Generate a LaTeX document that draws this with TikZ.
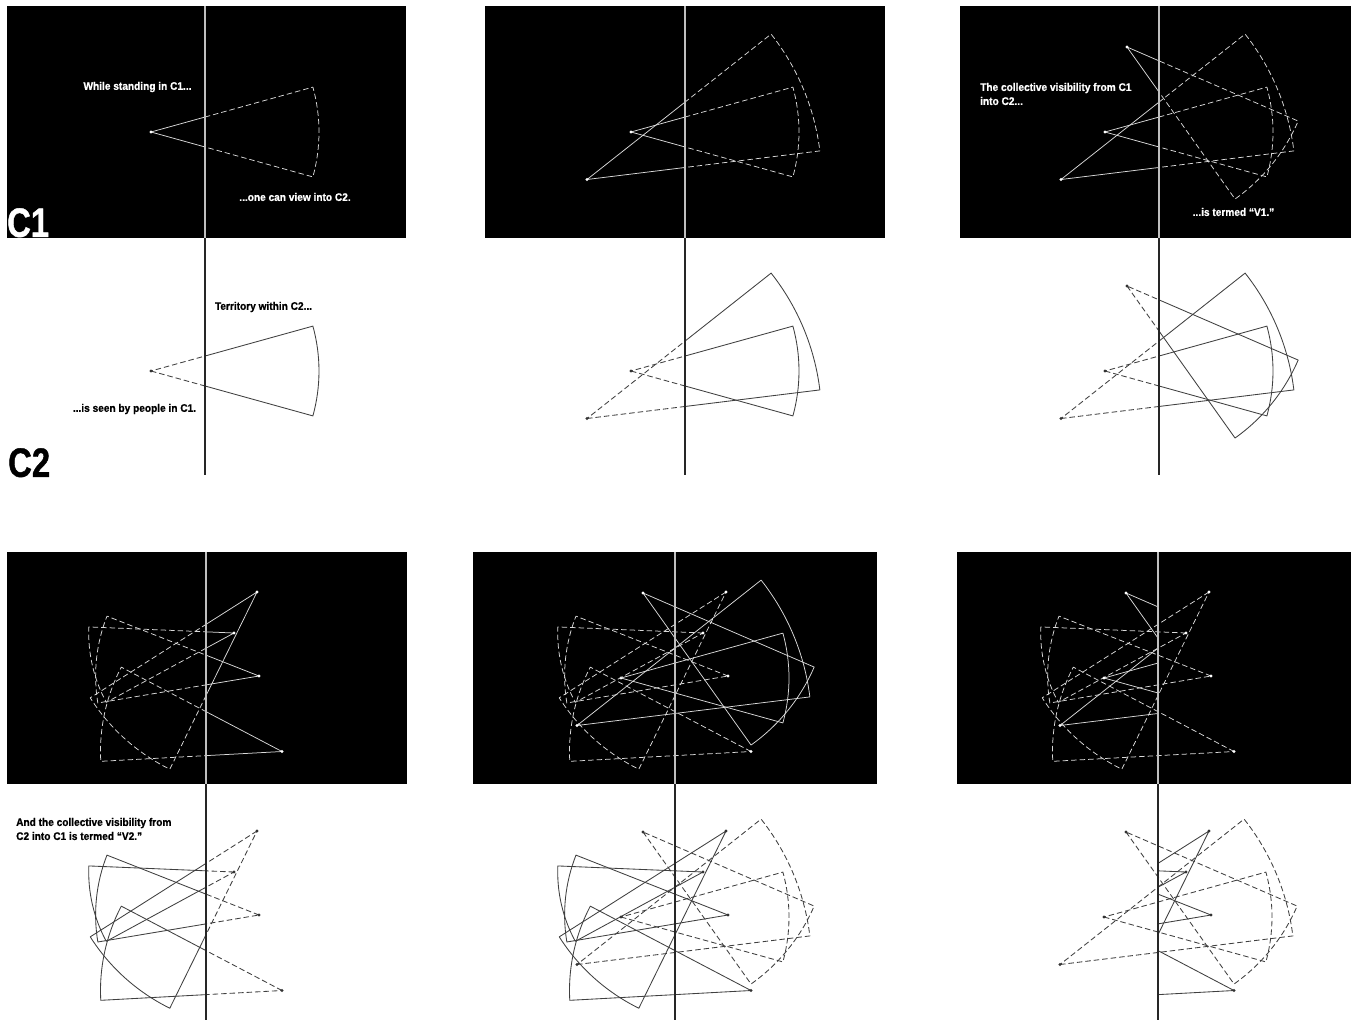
\documentclass[tikz,border=0pt]{standalone}
\usepackage{fontspec}
\setmainfont{Liberation Sans}
\newfontfamily\bigfont[FakeStretch=0.8,FakeBold=1]{Liberation Sans}
\newfontfamily\txtfont[FakeStretch=0.92,FakeBold=0.7]{Liberation Sans}
\tikzset{
 wsolid/.style={draw=white!85!black, line width=0.75pt, line join=round},
 wdash/.style={wsolid, dash pattern=on 5.5pt off 3pt},
 bsolid/.style={draw=black!75, line width=0.85pt, line join=round},
 bdash/.style={bsolid, dash pattern=on 5.5pt off 3pt},
 divtop/.style={draw=white!75!black, line width=1.4pt},
 divbot/.style={draw=black!85, line width=1.4pt},
 wtext/.style={text=white, font=\txtfont\bfseries\fontsize{11}{14}\selectfont, inner sep=0pt, align=left},
 btext/.style={wtext, text=black},
 bigtext/.style={font=\bigfont\bfseries\fontsize{41}{41}\selectfont, inner sep=0pt},
}
\newcommand\secA[2]{\draw[#1] (-54,-126) -- ++(-15.5:168pt) arc[start angle=-15.5,end angle=15.5,radius=168pt] -- cycle; \fill[#2] (-54,-126) circle (1.7pt);}
\newcommand\secB[2]{\draw[#1] (-98,-173.5) -- ++(7:234.6pt) arc[start angle=7,end angle=38.3,radius=234.6pt] -- cycle; \fill[#2] (-98,-173.5) circle (1.7pt);}
\newcommand\secC[2]{\draw[#1] (-32,-41) -- ++(-54.6:186.5pt) arc[start angle=-54.6,end angle=-23.4,radius=186.5pt] -- cycle; \fill[#2] (-32,-41) circle (1.7pt);}
\newcommand\secD[2]{\draw[#1] (51,-40) -- ++(-147.6:197.5pt) arc[start angle=-147.6,end angle=-116.2,radius=197.5pt] -- cycle; \fill[#2] (51,-40) circle (1.7pt);}
\newcommand\secE[2]{\draw[#1] (28,-81) -- ++(177.6:145.3pt) arc[start angle=177.6,end angle=208.5,radius=145.3pt] -- cycle; \fill[#2] (28,-81) circle (1.7pt);}
\newcommand\secF[2]{\draw[#1] (53,-124) -- ++(158.5:163.4pt) arc[start angle=158.5,end angle=189.5,radius=163.4pt] -- cycle; \fill[#2] (53,-124) circle (1.7pt);}
\newcommand\secG[2]{\draw[#1] (76,-199.5) -- ++(152.3:181.5pt) arc[start angle=152.3,end angle=183.1,radius=181.5pt] -- cycle; \fill[#2] (76,-199.5) circle (1.7pt);}
\newcommand\leftpart[1]{\begin{scope}\clip (-262,30) rectangle (0,-250); #1\end{scope}}
\newcommand\rightpart[1]{\begin{scope}\clip (0,30) rectangle (262,-250); #1\end{scope}}
\newcommand\lowerhalf[1]{\begin{scope}[yshift=-239pt] #1\end{scope}}
\newcommand\Vone[2]{\secA{#1}{#2}\secB{#1}{#2}\secC{#1}{#2}}
\newcommand\Vtwo[2]{\secD{#1}{#2}\secE{#1}{#2}\secF{#1}{#2}\secG{#1}{#2}}
\begin{document}
\begin{tikzpicture}[x=1pt,y=1pt]
\useasboundingbox (0,0) rectangle (1357,-1021);
\fill[white] (0,0) rectangle (1357,-1021);
% ---------- panel 1
\begin{scope}[shift={(205,-6)}]
 \fill[black] (-198,0) rectangle (201,-232);
 \leftpart{\secA{wsolid}{white}}
 \rightpart{\secA{wdash}{white}}
 \lowerhalf{\leftpart{\secA{bdash}{black!80}}\rightpart{\secA{bsolid}{black!80}}}
 \draw[divtop] (0,0) -- (0,-232);
 \draw[divbot] (0,-232) -- (0,-469);
\end{scope}
% ---------- panel 2
\begin{scope}[shift={(685,-6)}]
 \fill[black] (-200,0) rectangle (200,-232);
 \leftpart{\secA{wsolid}{white}\secB{wsolid}{white}}
 \rightpart{\secA{wdash}{white}\secB{wdash}{white}}
 \lowerhalf{\leftpart{\secA{bdash}{black!80}\secB{bdash}{black!80}}\rightpart{\secA{bsolid}{black!80}\secB{bsolid}{black!80}}}
 \draw[divtop] (0,0) -- (0,-232);
 \draw[divbot] (0,-232) -- (0,-469);
\end{scope}
% ---------- panel 3
\begin{scope}[shift={(1159,-6)}]
 \fill[black] (-199,0) rectangle (192,-232);
 \leftpart{\Vone{wsolid}{white}}
 \rightpart{\Vone{wdash}{white}}
 \lowerhalf{\leftpart{\Vone{bdash}{black!80}}\rightpart{\Vone{bsolid}{black!80}}}
 \draw[divtop] (0,0) -- (0,-232);
 \draw[divbot] (0,-232) -- (0,-469);
\end{scope}
% ---------- panel 4
\begin{scope}[shift={(206,-552)}]
 \fill[black] (-199,0) rectangle (201,-232);
 \leftpart{\Vtwo{wdash}{white}}
 \rightpart{\Vtwo{wsolid}{white}}
 \lowerhalf{\leftpart{\Vtwo{bsolid}{black!80}}\rightpart{\Vtwo{bdash}{black!80}}}
 \draw[divtop] (0,0) -- (0,-232);
 \draw[divbot] (0,-232) -- (0,-468);
\end{scope}
% ---------- panel 5
\begin{scope}[shift={(675,-552)}]
 \fill[black] (-202,0) rectangle (202,-232);
 \Vone{wsolid}{white}
 \Vtwo{wdash}{white}
 \lowerhalf{\Vtwo{bsolid}{black!80}\Vone{bdash}{black!80}}
 \draw[divtop] (0,0) -- (0,-232);
 \draw[divbot] (0,-232) -- (0,-468);
\end{scope}
% ---------- panel 6
\begin{scope}[shift={(1158,-552)}]
 \fill[black] (-201,0) rectangle (193,-232);
 \Vtwo{wdash}{white}
 \leftpart{\Vone{wsolid}{white}}
 \lowerhalf{\Vone{bdash}{black!80}\rightpart{\Vtwo{bsolid}{black!80}}}
 \draw[divtop] (0,0) -- (0,-232);
 \draw[divbot] (0,-232) -- (0,-468);
\end{scope}
% ---------- texts
\node[wtext] (t1) at (137.5,-87) {While standing in C1...};
\node[wtext] (t2) at (295,-197) {...one can view into C2.};
\node[btext] (t3) at (263.5,-307) {Territory within C2...};
\node[btext] (t4) at (134.5,-409) {...is seen by people in C1.};
\node[wtext, anchor=west] (t5) at (980,-94) {The collective visibility from C1\\into C2...};
\node[wtext] (t6) at (1233.5,-212) {...is termed “V1.”};
\node[btext, anchor=west] (t7) at (16,-829) {And the collective visibility from\\C2 into C1 is termed “V2.”};
\begin{scope}
 \clip (7,-6) rectangle (205,-238);
 \node[bigtext, text=white, anchor=north west] (c1) at (7,-208) {C1};
\end{scope}
\node[bigtext, anchor=north west] (c2) at (8,-448) {C2};
\end{tikzpicture}
\end{document}
